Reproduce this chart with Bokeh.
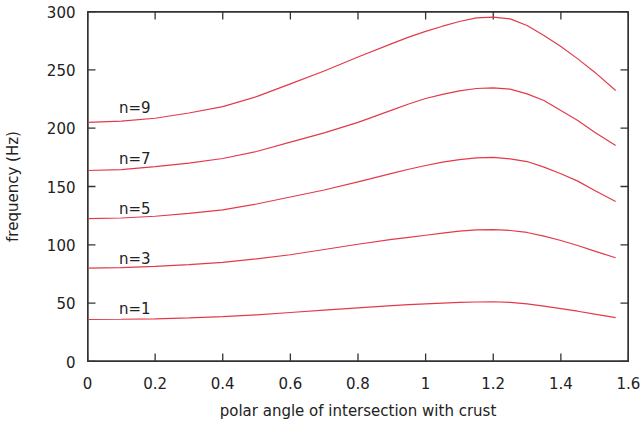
from bokeh.plotting import figure
from bokeh.models import Range1d, LinearAxis, FixedTicker, CustomJSTickFormatter, ColumnDataSource
from bokeh.core.properties import value
from bokeh.embed import file_html
from bokeh.resources import INLINE

# polar angle (rad)
angle = [0.0, 0.1, 0.2, 0.3, 0.4, 0.5, 0.6, 0.7, 0.8, 0.9, 0.95, 1.0, 1.05, 1.1, 1.15, 1.2,
         1.25, 1.3, 1.35, 1.4, 1.45, 1.5, 1.562]
# frequency (Hz) per overtone
f_n1 = [36.0, 36.2, 36.6, 37.4, 38.5, 40.0, 42.0, 44.0, 46.0, 47.9, 48.7, 49.4, 50.0, 50.6, 51.0, 51.2,
        50.6, 49.4, 47.4, 45.4, 43.1, 40.6, 37.6]
f_n3 = [80.0, 80.5, 81.5, 83.0, 85.0, 88.0, 91.5, 96.0, 100.5, 104.6, 106.4, 108.2, 110.0, 111.7, 112.9, 113.1,
        112.3, 110.6, 107.4, 103.7, 99.4, 94.6, 88.9]
f_n5 = [122.5, 123.0, 124.5, 127.0, 130.0, 135.0, 141.0, 147.0, 154.0, 161.3, 164.8, 168.0, 170.9, 173.1, 174.6, 174.9,
        173.7, 171.4, 166.6, 160.9, 154.6, 146.6, 137.1]
f_n7 = [163.7, 164.5, 167.0, 170.0, 174.0, 180.0, 188.0, 196.0, 205.0, 215.5, 220.7, 225.4, 228.9, 232.0, 234.0, 234.6,
        233.4, 229.4, 223.7, 215.1, 206.6, 196.6, 185.1]
f_n9 = [205.0, 206.0, 208.5, 213.0, 218.5, 227.0, 238.0, 249.0, 261.0, 272.5, 278.0, 283.0, 287.4, 291.4, 294.6, 295.1,
        293.7, 288.0, 279.4, 270.0, 259.4, 248.0, 232.3]

series = [f_n1, f_n3, f_n5, f_n7, f_n9]
series_labels = ["n=1", "n=3", "n=5", "n=7", "n=9"]

x_ticks = [0, 0.2, 0.4, 0.6, 0.8, 1.0, 1.2, 1.4, 1.6]
y_ticks = [0, 50, 100, 150, 200, 250, 300]
x_min, x_max = 0, 1.6
y_min, y_max = 0, 300

# label anchor positions (data coords)
label_x = [0.093] * 5
label_y = [45, 88, 131, 174, 217]

FONT = "DejaVu Sans"
AX = "#333333"
TXT = "#222222"
RED = "#e23a4a"

W, H = 643, 430
BL, BR, BT, BB = 86, 15, 11, 69
TICK_PX = 8

p = figure(width=W, height=H, x_range=Range1d(x_min, x_max), y_range=Range1d(y_min, y_max),
           output_backend="svg", toolbar_location=None, x_axis_location=None, y_axis_location=None,
           min_border_left=BL, min_border_right=BR, min_border_top=BT, min_border_bottom=BB)
p.grid.visible = False
p.outline_line_color = AX
p.outline_line_width = 1
p.background_fill_color = "white"
p.border_fill_color = "white"

fmt = CustomJSTickFormatter(code="return String(Math.round(tick*10)/10);")

def style(ax, ticks):
    ax.ticker = FixedTicker(ticks=ticks)
    ax.axis_line_color = AX
    ax.axis_line_width = 1
    ax.major_tick_line_color = None
    ax.major_tick_in = 0
    ax.major_tick_out = 0
    ax.minor_tick_line_color = None
    ax.major_label_text_font = FONT
    ax.major_label_text_font_size = "15px"
    ax.major_label_text_color = TXT
    ax.axis_label_text_font = FONT
    ax.axis_label_text_font_size = "15px"
    ax.axis_label_text_font_style = "normal"
    ax.axis_label_text_color = TXT

xb = LinearAxis(axis_label="polar angle of intersection with crust", formatter=fmt)
style(xb, x_ticks)
xb.major_label_standoff = 15
xb.axis_label_standoff = 10
p.add_layout(xb, "below")

yl = LinearAxis(axis_label="frequency (Hz)")
style(yl, y_ticks)
yl.major_label_standoff = 12
yl.axis_label_standoff = 22
p.add_layout(yl, "left")

# frame box drawn as a line glyph (outer half clipped by the frame)
p.line([x_min, x_max, x_max, x_min, x_min], [y_min, y_min, y_max, y_max, y_min],
       line_color=AX, line_width=2.4)

# inward tick marks on all four sides
dx = TICK_PX * (x_max - x_min) / (W - BL - BR)
dy = TICK_PX * (y_max - y_min) / (H - BT - BB)
tick_xs, tick_ys = [], []
for t in x_ticks:
    tick_xs += [[t, t], [t, t]]
    tick_ys += [[y_min, y_min + dy], [y_max, y_max - dy]]
for t in y_ticks:
    tick_xs += [[x_min, x_min + dx], [x_max, x_max - dx]]
    tick_ys += [[t, t], [t, t]]
p.multi_line(tick_xs, tick_ys, line_color=AX, line_width=1.3)

for s in series:
    p.line(angle, s, line_color=RED, line_width=1.2)

src = ColumnDataSource(dict(x=label_x, y=label_y, t=series_labels))
p.text(x="x", y="y", text="t", source=src, text_font=value(FONT), text_font_size="15px",
       text_align="left", text_baseline="middle", text_color=TXT)

open("out.html", "w").write(file_html(p, INLINE))
